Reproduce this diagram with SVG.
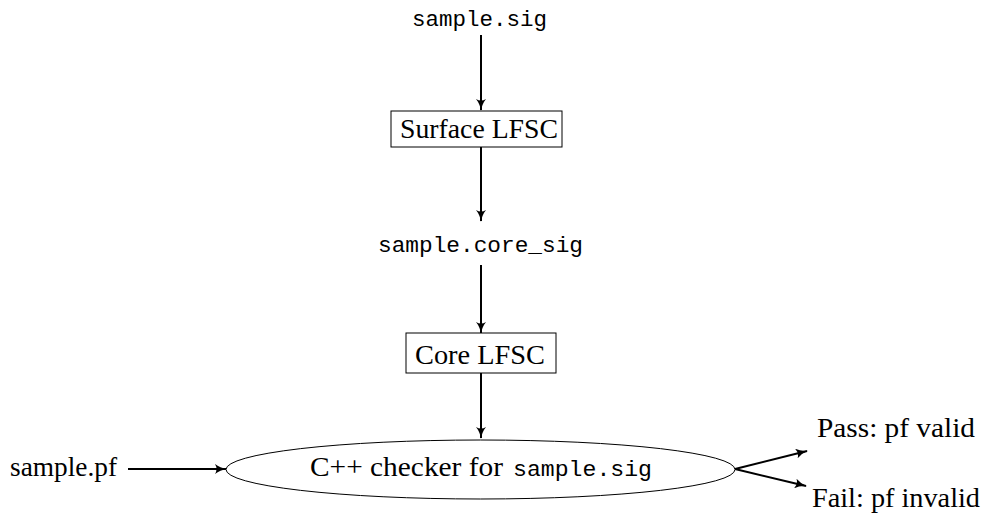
<svg xmlns="http://www.w3.org/2000/svg" width="984" height="521" viewBox="0 0 984 521">
<style>
.rm{font-family:"Liberation Serif","DejaVu Serif",serif;font-size:28px;fill:#000}
.tt{font-family:"Liberation Mono","DejaVu Sans Mono",monospace;font-size:22.7px;fill:#000}
.box{fill:#fff;stroke:#000;stroke-width:1}
.edge{fill:none;stroke:#000;stroke-width:2}
</style>
<defs>
<marker id="ah" viewBox="0 0 12 10" refX="11" refY="5" markerWidth="12" markerHeight="10" markerUnits="userSpaceOnUse" orient="auto">
<path d="M0,0 Q5,4 12,5 Q5,6 0,10 Q3,5 0,0 Z" fill="#000"/>
</marker>
</defs>
<rect width="984" height="521" fill="#fff"/>
<g id="connectors">
<line class="edge" x1="481" y1="35" x2="481" y2="110" marker-end="url(#ah)"/>
<line class="edge" x1="481" y1="147" x2="481" y2="221" marker-end="url(#ah)"/>
<line class="edge" x1="481" y1="265" x2="481" y2="333" marker-end="url(#ah)"/>
<line class="edge" x1="481" y1="373" x2="481" y2="438" marker-end="url(#ah)"/>
<line class="edge" x1="128" y1="469" x2="226" y2="469" marker-end="url(#ah)"/>
<line class="edge" x1="735" y1="469" x2="807" y2="451" marker-end="url(#ah)"/>
<line class="edge" x1="735" y1="469" x2="806" y2="486" marker-end="url(#ah)"/>
</g>
<g id="sample_sig"><text class="tt" x="412" y="26" textLength="135" lengthAdjust="spacingAndGlyphs">sample.sig</text></g>
<g id="surface_lfsc">
<rect class="box" x="391" y="111" width="171" height="36"/>
<text class="rm" x="400" y="138" textLength="158" lengthAdjust="spacingAndGlyphs">Surface LFSC</text>
</g>
<g id="sample_core_sig"><text class="tt" x="378" y="252" textLength="205" lengthAdjust="spacingAndGlyphs">sample.core_sig</text></g>
<g id="core_lfsc">
<rect class="box" x="406" y="333" width="150" height="40"/>
<text class="rm" x="415" y="364" textLength="130" lengthAdjust="spacingAndGlyphs">Core LFSC</text>
</g>
<g id="sample_pf"><text class="rm" x="10" y="476" textLength="107" lengthAdjust="spacingAndGlyphs">sample.pf</text></g>
<g id="checker">
<ellipse class="box" cx="480.5" cy="469.5" rx="254.5" ry="29.5"/>
<text class="rm" x="310" y="476" textLength="193" lengthAdjust="spacingAndGlyphs">C++ checker for</text>
<text class="tt" x="513" y="476" textLength="139" lengthAdjust="spacingAndGlyphs">sample.sig</text>
</g>
<g id="pass"><text class="rm" x="817" y="437" textLength="158" lengthAdjust="spacingAndGlyphs">Pass:  pf valid</text></g>
<g id="fail"><text class="rm" x="812" y="507" textLength="168" lengthAdjust="spacingAndGlyphs">Fail:  pf invalid</text></g>
</svg>
